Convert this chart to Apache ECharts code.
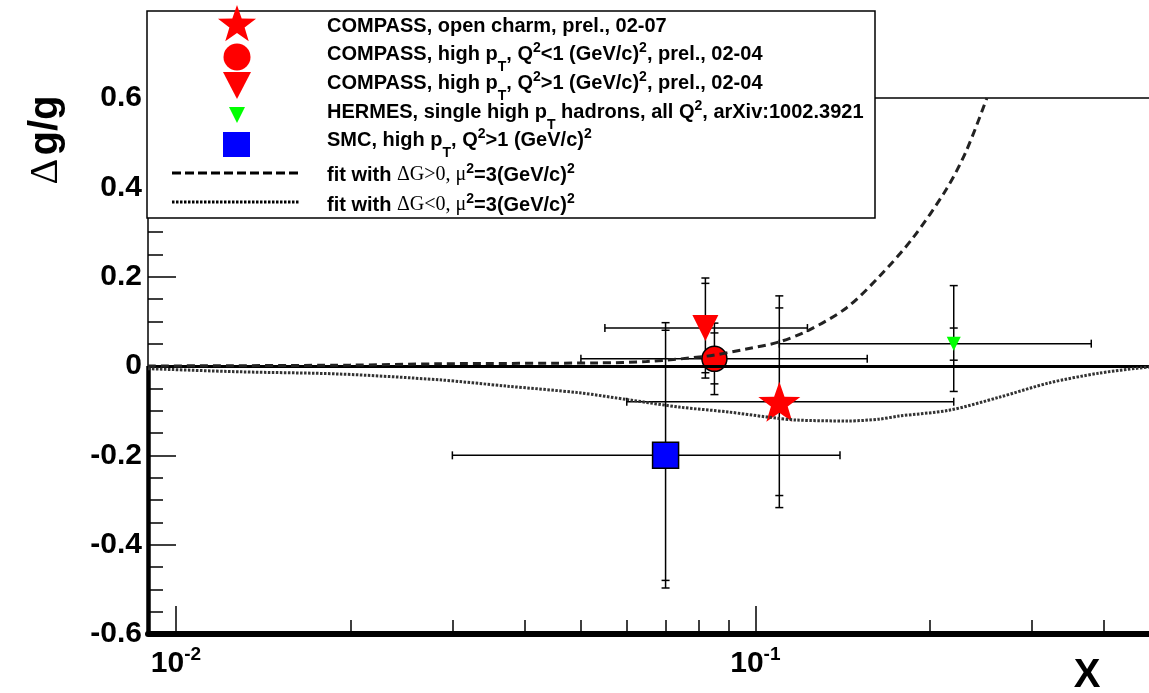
<!DOCTYPE html>
<html>
<head>
<meta charset="utf-8">
<script src="https://cdn.jsdelivr.net/npm/echarts@6/dist/echarts.min.js"></script>
<style>
html, body { margin: 0; padding: 0; background: #fff; }
#chart { width: 1149px; height: 693px; }
</style>
</head>
<body>
<div id="chart"></div>
<script>
// data points: open charm, high pT Q2<1, high pT Q2>1, HERMES, SMC
var pointX = [0.110, 0.085, 0.082, 0.220, 0.070];
var pointY = [-0.08, 0.016, 0.085, 0.050, -0.20];
var xLow = [0.060, 0.050, 0.055, 0.110, 0.030];
var xHigh = [0.220, 0.156, 0.123, 0.380, 0.140];
var statUp = [0.21, 0.058, 0.10, 0.035, 0.28];
var statDown = [0.21, 0.056, 0.10, 0.037, 0.28];
var totUp = [0.237, 0.080, 0.112, 0.130, 0.297];
var totDown = [0.237, 0.080, 0.112, 0.107, 0.297];

// fit with dG>0
var fitPosX = [0.00895, 0.020, 0.0285, 0.0538, 0.0649, 0.0823, 0.0965, 0.110, 0.124, 0.1436, 0.1636, 0.1866, 0.2135, 0.231, 0.251];
var fitPosY = [0.0, 0.002, 0.005, 0.007, 0.010, 0.022, 0.038, 0.054, 0.081, 0.130, 0.200, 0.285, 0.395, 0.480, 0.600];
// fit with dG<0
var fitNegX = [0.00895, 0.0129, 0.0192, 0.0285, 0.0372, 0.0497, 0.0607, 0.074, 0.090, 0.1045, 0.1177, 0.145, 0.1636, 0.177, 0.216, 0.2635, 0.321, 0.392, 0.478];
var fitNegY = [-0.006, -0.013, -0.018, -0.031, -0.045, -0.060, -0.076, -0.092, -0.103, -0.114, -0.121, -0.123, -0.119, -0.112, -0.099, -0.070, -0.038, -0.016, -0.002];

// axis
var xMin = 0.00895, xMax = 0.478;
var xMajorTicks = [0.01, 0.1];
var xMinorTicks = [0.02, 0.03, 0.04, 0.05, 0.06, 0.07, 0.08, 0.09, 0.2, 0.3, 0.4];

var LOG_MIN = Math.log10(xMin);
var LOG_MAX = Math.log10(xMax);
var SANS = 'Liberation Sans, Arial, sans-serif';
var SERIF = 'Liberation Serif, DejaVu Serif, serif';

function lg(v) { return Math.log10(v); }

function starPoints(cx, cy, R, r) {
	var pts = [];
	for (var k = 0; k < 10; k++) {
		var a = -Math.PI / 2 + k * Math.PI / 5;
		var rad = k % 2 ? r : R;
		pts.push([cx + rad * Math.cos(a), cy + rad * Math.sin(a)]);
	}
	return pts;
}
var starPath = 'path://' + starPoints(50, 50, 50, 20).map(function (p, i) {
	return (i ? 'L' : 'M') + p[0].toFixed(2) + ',' + p[1].toFixed(2);
}).join(' ') + ' Z';

// error bar data
var barData = [];
for (var i = 0; i < pointX.length; i++) {
	barData.push([lg(pointX[i]), pointY[i], lg(xLow[i]), lg(xHigh[i]),
		pointY[i] - statDown[i], pointY[i] + statUp[i],
		pointY[i] - totDown[i], pointY[i] + totUp[i]]);
}

function renderErrorBar(params, api) {
	var x = api.value(0), y = api.value(1);
	var c = api.coord([x, y]);
	var left = api.coord([api.value(2), y]);
	var right = api.coord([api.value(3), y]);
	var sLo = api.coord([x, api.value(4)]);
	var sHi = api.coord([x, api.value(5)]);
	var tLo = api.coord([x, api.value(6)]);
	var tHi = api.coord([x, api.value(7)]);
	var style = { stroke: '#000', lineWidth: 1.5 };
	var children = [];
	function seg(x1, y1, x2, y2) {
		children.push({ type: 'line', shape: { x1: x1, y1: y1, x2: x2, y2: y2 }, style: style });
	}
	seg(left[0], c[1], right[0], c[1]);
	seg(left[0], c[1] - 4, left[0], c[1] + 4);
	seg(right[0], c[1] - 4, right[0], c[1] + 4);
	seg(c[0], tHi[1], c[0], tLo[1]);
	[sLo, sHi, tLo, tHi].forEach(function (p) {
		seg(c[0] - 4, p[1], c[0] + 4, p[1]);
	});
	return { type: 'group', children: children };
}

function pairs(xs, ys) {
	return xs.map(function (v, i) { return [lg(v), ys[i]]; });
}

// legend text styles
var legRich = {
	n: { fontSize: 20, fontWeight: 'bold', fontFamily: SANS, lineHeight: 22, color: '#000' },
	sub: { fontSize: 14, fontWeight: 'bold', fontFamily: SANS, lineHeight: 14, padding: [26, 0, 0, 0], color: '#000' },
	sup: { fontSize: 14, fontWeight: 'bold', fontFamily: SANS, lineHeight: 14, padding: [0, 0, 12, 0], color: '#000' },
	sym: { fontSize: 20, fontFamily: SERIF, lineHeight: 22, color: '#000' }
};
var legendRows = [
	'{n|COMPASS, open charm, prel., 02-07}',
	'{n|COMPASS, high p}{sub|T}{n|, Q}{sup|2}{n|<1 (GeV/c)}{sup|2}{n|, prel., 02-04}',
	'{n|COMPASS, high p}{sub|T}{n|, Q}{sup|2}{n|>1 (GeV/c)}{sup|2}{n|, prel., 02-04}',
	'{n|HERMES, single high p}{sub|T}{n| hadrons, all Q}{sup|2}{n|, arXiv:1002.3921}',
	'{n|SMC, high p}{sub|T}{n|, Q}{sup|2}{n|>1 (GeV/c)}{sup|2}',
	'{n|fit with }{sym|\u0394G>0, \u03bc}{sup|2}{n|=3(GeV/c)}{sup|2}',
	'{n|fit with }{sym|\u0394G<0, \u03bc}{sup|2}{n|=3(GeV/c)}{sup|2}'
];
var legendRowY = [26, 54, 83, 112, 140, 175, 205];

var graphics = [
	{ type: 'rect', z: 100, shape: { x: 147, y: 11, width: 728, height: 207 },
		style: { fill: '#fff', stroke: '#000', lineWidth: 1.5 } },
	{ type: 'polygon', z: 101, shape: { points: starPoints(237, 25, 20, 8) }, style: { fill: '#ff0000' } },
	{ type: 'circle', z: 101, shape: { cx: 237, cy: 57, r: 13.5 }, style: { fill: '#ff0000' } },
	{ type: 'polygon', z: 101, shape: { points: [[223, 72], [251, 72], [237, 99]] }, style: { fill: '#ff0000' } },
	{ type: 'polygon', z: 101, shape: { points: [[229, 107], [245, 107], [237, 123]] }, style: { fill: '#00ff00' } },
	{ type: 'rect', z: 101, shape: { x: 223, y: 132, width: 27, height: 25 }, style: { fill: '#0000ff' } },
	{ type: 'line', z: 101, shape: { x1: 172, y1: 173, x2: 300, y2: 173 },
		style: { stroke: '#000', lineWidth: 3, lineDash: [9, 4] } },
	{ type: 'line', z: 101, shape: { x1: 172, y1: 202, x2: 300, y2: 202 },
		style: { stroke: '#000', lineWidth: 3, lineDash: [2.5, 1.5] } },
	{ type: 'text', z: 101, x: 46, y: 140, rotation: Math.PI / 2,
		style: { text: '{d|\u0394} {g|g/g}', align: 'center', verticalAlign: 'middle',
			rich: {
				d: { fontSize: 40, fontFamily: SERIF, color: '#000' },
				g: { fontSize: 40, fontWeight: 'bold', fontFamily: SANS, color: '#000' }
			} } },
	{ type: 'text', z: 101, x: 1087, y: 676,
		style: { text: 'X', fontSize: 40, fontWeight: 'bold', fontFamily: SANS, fill: '#000',
			align: 'center', verticalAlign: 'middle' } }
];
legendRows.forEach(function (t, i) {
	graphics.push({ type: 'text', z: 101, x: 327, y: legendRowY[i],
		style: { text: t, rich: legRich, align: 'left', verticalAlign: 'middle' } });
});

var chart = echarts.init(document.getElementById('chart'));
var option = {
	animation: false,
	backgroundColor: '#fff',
	grid: {
		left: 148, top: 98, width: 1002, height: 536, show: false
	},
	xAxis: [{
		type: 'value', min: LOG_MIN, max: LOG_MAX, position: 'bottom',
		axisLine: { onZero: false, lineStyle: { color: '#000', width: 6 } },
		axisTick: { inside: true, length: 28, customValues: xMajorTicks.map(lg),
			lineStyle: { color: '#000', width: 1.5 } },
		axisLabel: {
			customValues: xMajorTicks.map(lg), margin: 13,
			formatter: function (v) { return '{b|10}{s|' + Math.round(v) + '}'; },
			rich: {
				b: { fontSize: 30, fontWeight: 'bold', fontFamily: SANS, lineHeight: 34, color: '#000' },
				s: { fontSize: 19, fontWeight: 'bold', fontFamily: SANS, lineHeight: 19, padding: [0, 0, 19, 0], color: '#000' }
			}
		},
		splitLine: { show: false }
	}, {
		type: 'value', min: LOG_MIN, max: LOG_MAX, position: 'bottom',
		axisLine: { show: false, onZero: false },
		axisTick: { inside: true, length: 14, customValues: xMinorTicks.map(lg),
			lineStyle: { color: '#000', width: 1.5 } },
		axisLabel: { show: false },
		splitLine: { show: false }
	}],
	yAxis: {
		type: 'value', min: -0.6, max: 0.6, interval: 0.2,
		axisLine: { show: true, onZero: false, lineStyle: { color: '#000', width: 1.5 } },
		axisTick: { inside: true, length: 28, lineStyle: { color: '#000', width: 1.5 } },
		minorTick: { show: true, splitNumber: 4, length: 15, lineStyle: { color: '#000', width: 1.5 } },
		axisLabel: {
			margin: 6, fontSize: 30, fontWeight: 'bold', fontFamily: SANS, color: '#000',
			formatter: function (v) { return String(Math.round(v * 10) / 10); }
		},
		splitLine: { show: false }
	},
	graphic: graphics,
	series: [{
		type: 'custom', name: 'errors', z: 3,
		renderItem: renderErrorBar,
		data: barData
	}, {
		type: 'scatter', name: 'COMPASS open charm', z: 4,
		symbol: starPath, symbolSize: [42, 40],
		itemStyle: { color: '#ff0000', opacity: 1 },
		data: [[lg(pointX[0]), pointY[0]]]
	}, {
		type: 'scatter', name: 'COMPASS high pT Q2<1', z: 4,
		symbol: 'circle', symbolSize: 25,
		itemStyle: { color: '#ff0000', borderColor: '#000', borderWidth: 1.5, opacity: 1 },
		data: [[lg(pointX[1]), pointY[1]]]
	}, {
		type: 'scatter', name: 'COMPASS high pT Q2>1', z: 4,
		symbol: 'triangle', symbolRotate: 180, symbolSize: [26, 26],
		itemStyle: { color: '#ff0000', opacity: 1 },
		data: [[lg(pointX[2]), pointY[2]]]
	}, {
		type: 'scatter', name: 'HERMES', z: 4,
		symbol: 'triangle', symbolRotate: 180, symbolSize: [14, 14],
		itemStyle: { color: '#00ff00', opacity: 1 },
		data: [[lg(pointX[3]), pointY[3]]]
	}, {
		type: 'scatter', name: 'SMC', z: 4,
		symbol: 'rect', symbolSize: 26,
		itemStyle: { color: '#0000ff', borderColor: '#000', borderWidth: 1.5, opacity: 1 },
		data: [[lg(pointX[4]), pointY[4]]]
	}, {
		type: 'line', name: 'fit dG>0', z: 5,
		smooth: 0.3, symbol: 'none',
		lineStyle: { color: '#222', width: 3, type: [8, 5] },
		data: pairs(fitPosX, fitPosY)
	}, {
		type: 'line', name: 'fit dG<0', z: 5,
		smooth: 0.3, symbol: 'none',
		lineStyle: { color: '#333', width: 3, type: [2.5, 1.5] },
		data: pairs(fitNegX, fitNegY),
		markLine: {
			silent: true, symbol: ['none', 'none'], label: { show: false },
			data: [
				{ yAxis: 0, lineStyle: { color: '#000', width: 3, type: 'solid' } },
				{ yAxis: 0.6, lineStyle: { color: '#000', width: 1.5, type: 'solid' } },
				[{ coord: [LOG_MIN, -0.6], lineStyle: { color: '#000', width: 4.5, type: 'solid' } },
					{ coord: [LOG_MIN, 0] }]
			]
		}
	}]
};
chart.setOption(option);
</script>
</body>
</html>
